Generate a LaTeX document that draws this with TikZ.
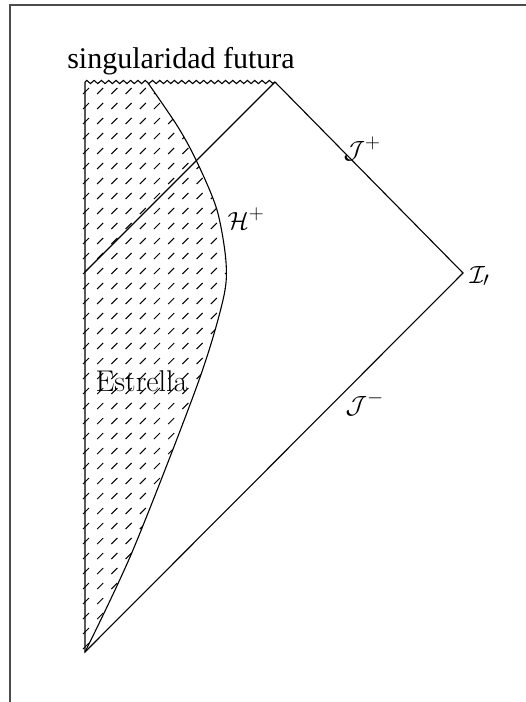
\documentclass[tikz,border=0pt]{standalone}
\usepackage{fontspec}
\newfontfamily\timesfont{Liberation Serif}
\usetikzlibrary{decorations.pathmorphing}
\begin{document}
\begin{tikzpicture}[x=1pt,y=-1pt, line width=1.1pt,
  lbl/.style={inner sep=0pt, font=\fontsize{30}{36}\selectfont},
  mlbl/.style={inner sep=0pt, font=\fontsize{32}{38}\selectfont},
  tlbl/.style={inner sep=0pt, font=\timesfont\fontsize{30}{36}\selectfont},
  hatch/.style={line width=1pt},
  frameline/.style={draw=black!70, line width=2pt},
  sing/.style={decorate, decoration={zigzag, segment length=7.3pt, amplitude=1.6pt}}]
\useasboundingbox (0,0) rectangle (526,702);
\coordinate (r0) at (85,652);
\coordinate (tl) at (85,82);
\coordinate (ts) at (148,82);
\coordinate (tr) at (275,82);
\coordinate (i0) at (463,273);
\coordinate (hl) at (85,272);
% frame
\draw[frameline] (9.5,702) -- (9.5,5) -- (526,5);
% hatching of the star
\begin{scope}
\clip (80,82) -- (ts) -- plot[smooth] coordinates {(148,83) (178,127) (197,162) (217,210) (226,262) (223,300) (198,383) (133,550) (85,652)} -- (80,652) -- cycle;
\foreach \i in {0,...,11} {
  \foreach \j in {0,...,38} {
    \draw[hatch] ({86+14.2*\i-3},{91+15*\j+3}) -- ++(6,-6);
  }
}
\end{scope}
% star surface
\draw plot[smooth] coordinates {(148,83) (178,127) (197,162) (217,210) (226,262) (223,300) (198,383) (133,550) (85,652)};
% Penrose diagram boundary
\draw[sing] (tl) -- (tr);
\draw (tl) -- (r0) -- (i0) -- (tr);
\draw (hl) -- (tr);
% labels
\node[tlbl, anchor=base] (sf) at (181,68) {singularidad futura};
\node[lbl, anchor=base west] (est) at (95,391) {Estrella};
\node[mlbl, anchor=base west] (hp) at (227,229) {$\mathcal{H}^+$};
\node[mlbl, anchor=base west] (jp) at (343,158) {$\mathcal{J}^+$};
\node[mlbl, anchor=base west] (jm) at (345,413) {$\mathcal{J}^-$};
\node[mlbl, anchor=base west] (io) at (469,283) {$\mathcal{I}_\prime$};
\end{tikzpicture}
\end{document}
